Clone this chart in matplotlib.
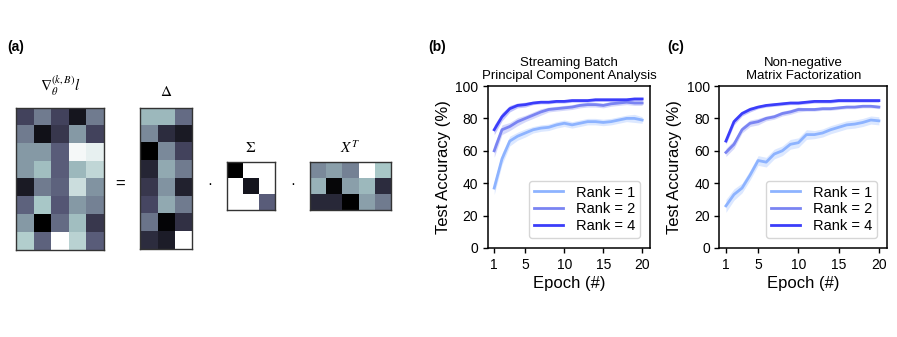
import numpy as np
import matplotlib
matplotlib.use("Agg")
import matplotlib.pyplot as plt

plt.rcParams['font.family'] = ['Liberation Sans', 'DejaVu Sans']
plt.rcParams['mathtext.fontset'] = 'stix'

# ---- data ----
epochs = list(range(1, 21))
ranks = ["Rank = 1", "Rank = 2", "Rank = 4"]
colors = ["#8db3ff", "#7a84f2", "#3b3dfa"]

# (b) streaming batch PCA
pca_r1 = [37, 55, 66, 69, 71, 73, 74, 74.5, 76, 77, 76, 77, 78, 78, 77.5, 78, 79, 80, 80, 79]
pca_r2 = [60, 73, 75, 78, 80, 82, 84, 85.5, 86, 86.5, 87, 88, 88.5, 88.5, 88, 89, 89.5, 90, 89.5, 89.5]
pca_r4 = [73, 81, 86, 88, 88.5, 89.5, 90, 90, 90.5, 90.5, 91, 91, 91, 91.5, 91.5, 91.5, 91.5, 91.5, 92, 92]
pca_r1_err = [4, 3.5, 3, 2.5, 2.5, 2, 2, 2, 2, 2, 2, 2, 2, 2, 2, 2, 2, 2, 2.5, 2]
pca_r2_err = [4, 3, 2.5, 2.5, 2, 2, 2, 1.5, 1.5, 1.5, 1.5, 1.5, 1.5, 1.5, 1.5, 1.5, 1.5, 1.5, 1.5, 1.5]
pca_r4_err = [3, 2.5, 2, 1.5, 1.5, 1, 1, 1, 1, 1, 1, 1, 1, 1, 1, 1, 1, 1, 1, 1]

# (c) non-negative matrix factorization
nmf_r1 = [26, 33, 37, 45, 54, 53, 58, 60, 64, 65, 70, 70, 71, 73, 74.5, 76, 76.5, 77.5, 79, 78.5]
nmf_r2 = [59, 64, 73, 77, 78, 80, 81, 83, 84, 85.5, 85.5, 85.5, 86, 86, 86.5, 87, 87, 87.5, 87.5, 87]
nmf_r4 = [66, 78, 83, 85.5, 87, 88, 88.5, 89, 89.5, 89.5, 90, 90.5, 90.5, 90.5, 91, 91, 91, 91, 91, 91]
nmf_r1_err = [4, 3.5, 3, 3, 3, 3, 3, 3, 3, 3, 3, 2.5, 2.5, 2.5, 2.5, 2.5, 2.5, 2.5, 2.5, 2.5]
nmf_r2_err = [2.5, 2.5, 2, 2, 2, 1.5, 1.5, 1.5, 1.5, 1.5, 1, 1, 1, 1, 1, 1, 1, 1, 1, 1]
nmf_r4_err = [2, 2, 1.5, 1.5, 1, 1, 1, 1, 1, 1, 1, 1, 1, 1, 1, 1, 1, 1, 1, 1]

# (a) matrix cartoon values (0 = black, 1 = white in 'bone')
grad_mat = [[0.30, 0.50, 0.30, 0.10, 0.50],
            [0.50, 0.08, 0.25, 0.60, 0.30],
            [0.60, 0.60, 0.40, 0.97, 0.93],
            [0.60, 0.72, 0.40, 0.70, 0.82],
            [0.12, 0.50, 0.42, 0.85, 0.58],
            [0.42, 0.75, 0.38, 0.60, 0.52],
            [0.60, 0.00, 0.45, 0.72, 0.25],
            [0.78, 0.42, 1.00, 0.80, 0.40]]
delta_mat = [[0.70, 0.70, 0.45],
             [0.55, 0.20, 0.12],
             [0.00, 0.55, 0.30],
             [0.17, 0.65, 0.50],
             [0.25, 0.58, 0.15],
             [0.32, 0.65, 0.50],
             [0.48, 0.02, 0.22],
             [0.20, 0.13, 1.00]]
sigma_mat = [[0.00, 1.00, 1.00],
             [1.00, 0.10, 1.00],
             [1.00, 1.00, 0.40]]
xt_mat = [[0.55, 0.62, 0.52, 1.00, 0.75],
          [0.68, 0.03, 0.62, 0.70, 0.20],
          [0.18, 0.18, 0.00, 0.62, 0.50]]

fig = plt.figure(figsize=(8.97, 3.37), dpi=100)


def matrix_axes(rect, values, label, label_y):
    ax = fig.add_axes(rect)
    ax.imshow(np.array(values), cmap="bone", vmin=0, vmax=1, aspect="auto",
              interpolation="nearest")
    ax.set_xticks([])
    ax.set_yticks([])
    for s in ax.spines.values():
        s.set_color("#333333")
        s.set_linewidth(1.0)
    x_mid = rect[0] + rect[2] / 2
    fig.text(x_mid, label_y, label, ha="center", va="center", fontsize=11)
    return ax


matrix_axes([0.0178, 0.2582, 0.0981, 0.4214], grad_mat,
            r"$\nabla_{\theta}^{(k,B)}l$", 1 - 86 / 337)
matrix_axes([0.1561, 0.2611, 0.0580, 0.4184], delta_mat, r"$\Delta$", 1 - 92 / 337)
matrix_axes([0.2531, 0.3769, 0.0535, 0.1424], sigma_mat, r"$\Sigma$", 1 - 148 / 337)
matrix_axes([0.3456, 0.3769, 0.0903, 0.1424], xt_mat, r"$X^T$", 1 - 148 / 337)

fig.text(120 / 897, 1 - 184 / 337, "=", ha="center", va="center", fontsize=12)
fig.text(210 / 897, 1 - 184 / 337, "·", ha="center", va="center", fontsize=11)
fig.text(293 / 897, 1 - 184 / 337, "·", ha="center", va="center", fontsize=11)

fig.text(7 / 897, 1 - 47 / 337, "(a)", ha="left", va="center", fontsize=10, fontweight="bold")
fig.text(428 / 897, 1 - 47 / 337, "(b)", ha="left", va="center", fontsize=10, fontweight="bold")
fig.text(667 / 897, 1 - 47 / 337, "(c)", ha="left", va="center", fontsize=10, fontweight="bold")


def acc_panel(rect, series, errs, title):
    ax = fig.add_axes(rect)
    for vals, err, c, lab in zip(series, errs, colors, ranks):
        v = np.array(vals)
        e = np.array(err)
        ax.fill_between(epochs, v - e, v + e, color=c, alpha=0.3, lw=0)
        ax.plot(epochs, v, color=c, lw=2, label=lab)
    ax.set_ylim(0, 100)
    ax.set_xlim(0.2, 21)
    ax.set_xticks([1, 5, 10, 15, 20])
    ax.set_yticks([0, 20, 40, 60, 80, 100])
    ax.tick_params(labelsize=10, length=3.5, width=1)
    for s in ax.spines.values():
        s.set_linewidth(1.1)
    ax.set_xlabel("Epoch (#)", fontsize=12, labelpad=3)
    ax.set_ylabel("Test Accuracy (%)", fontsize=12, labelpad=3)
    ax.set_title(title, fontsize=9.5, pad=5, linespacing=1.1)
    ax.legend(loc="lower right", fontsize=10.5, handlelength=2.0, labelspacing=0.2,
              borderpad=0.3, handletextpad=0.9, borderaxespad=0.7)
    return ax


acc_panel([0.544, 0.2641, 0.1806, 0.4807], [pca_r1, pca_r2, pca_r4],
          [pca_r1_err, pca_r2_err, pca_r4_err],
          "Streaming Batch\nPrincipal Component Analysis")
acc_panel([0.8021, 0.2641, 0.1867, 0.4807], [nmf_r1, nmf_r2, nmf_r4],
          [nmf_r1_err, nmf_r2_err, nmf_r4_err],
          "Non-negative\nMatrix Factorization")

fig.savefig("out.png", dpi=100)
